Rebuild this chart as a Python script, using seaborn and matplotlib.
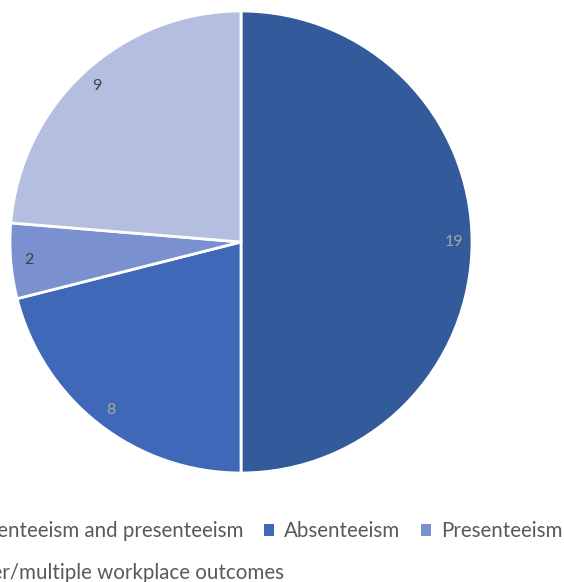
import matplotlib
matplotlib.use("Agg")
import matplotlib.pyplot as plt
import seaborn as sns
from matplotlib.patches import Patch

sns.set_theme(style="white")
plt.rcParams['font.family'] = ['Lato', 'DejaVu Sans']

categories = ["Absenteeism and presenteeism", "Absenteeism", "Presenteeism",
              "Other/multiple workplace outcomes"]
values = [19, 8, 2, 9]
colors = ["#335A9B", "#3F69B8", "#7A90CF", "#B4BFE0"]
label_colors = ["#A6A6A6", "#A6A6A6", "#404040", "#404040"]

W, H = 564, 582
fig = plt.figure(figsize=(W / 100, H / 100), dpi=100)
cx, cy, r = 241, 242, 231
ax = fig.add_axes([(cx - r) / W, (H - cy - r) / H, 2 * r / W, 2 * r / H])

wedges, texts, autotexts = ax.pie(
    values, colors=colors, startangle=90, counterclock=False,
    autopct=lambda p: f"{round(p * sum(values) / 100):d}",
    pctdistance=0.92, radius=1,
    wedgeprops=dict(edgecolor="white", linewidth=2),
    textprops=dict(fontsize=11.5))
for t, c in zip(autotexts, label_colors):
    t.set_color(c)
ax.set_xlim(-1, 1)
ax.set_ylim(-1, 1)
ax.set_aspect("equal")
ax.axis("off")

handles = [Patch(facecolor=c, edgecolor="none") for c in colors]
common = dict(frameon=False, fontsize=14.8, handlelength=0.5, handleheight=0.5,
              handletextpad=0.5, borderpad=0, borderaxespad=0,
              labelcolor="#595959")
leg1 = fig.legend(handles[:3], categories[:3], ncol=3, loc="center right",
                  bbox_to_anchor=(563 / W, 1 - 531 / H), columnspacing=1.0,
                  **common)
leg2 = fig.legend(handles[3:], categories[3:], ncol=1, loc="center left",
                  bbox_to_anchor=(-65 / W, 1 - 573 / H), **common)

fig.savefig("out.png", dpi=100)
